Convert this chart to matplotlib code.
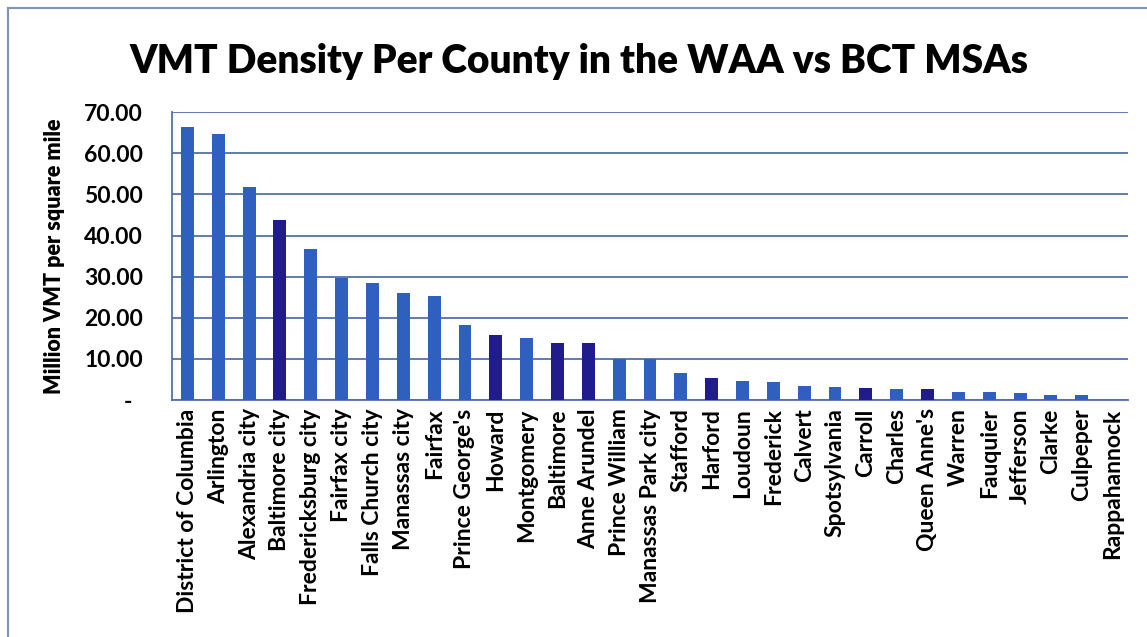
import matplotlib
matplotlib.use("Agg")
import matplotlib.pyplot as plt
from matplotlib.lines import Line2D

plt.rcParams['font.family'] = ['Lato', 'DejaVu Sans']

# counties, sorted by VMT density
counties = ["District of Columbia", "Arlington", "Alexandria city", "Baltimore city",
            "Fredericksburg city", "Fairfax city", "Falls Church city", "Manassas city",
            "Fairfax", "Prince George's", "Howard", "Montgomery", "Baltimore",
            "Anne Arundel", "Prince William", "Manassas Park city", "Stafford",
            "Harford", "Loudoun", "Frederick", "Calvert", "Spotsylvania", "Carroll",
            "Charles", "Queen Anne's", "Warren", "Fauquier", "Jefferson", "Clarke",
            "Culpeper", "Rappahannock"]
vmt_density = [66.3, 64.6, 51.7, 43.8, 36.8, 29.6, 28.4, 26.1, 25.4, 18.2, 15.8,
               15.2, 13.8, 13.8, 10.0, 10.0, 6.5, 5.4, 4.7, 4.3, 3.5, 3.2, 2.9,
               2.6, 2.6, 2.0, 2.0, 1.7, 1.3, 1.3, 0.1]
# counties in the Baltimore (BCT) MSA get the dark colour
bct = ["Baltimore city", "Howard", "Baltimore", "Anne Arundel", "Harford",
       "Carroll", "Queen Anne's"]
yticks = [0, 10, 20, 30, 40, 50, 60, 70]
ytick_labels = ["-  ", "10.00", "20.00", "30.00", "40.00", "50.00", "60.00", "70.00"]

waa_color = "#2f60c0"
bct_color = "#201c8c"
grid_color = "#5271aa"

fig = plt.figure(figsize=(11.47, 6.37), dpi=100)
ax = fig.add_axes([0.15, 0.372, 0.8334, 0.452])

colors = [bct_color if c in bct else waa_color for c in counties]
x = range(len(counties))
ax.bar(x, vmt_density, width=0.42, color=colors, zorder=3)

ax.set_xlim(-0.5, len(counties) - 0.5)
ax.set_ylim(0, 70)
ax.set_yticks(yticks)
ax.set_yticklabels(ytick_labels, fontsize=16.5, fontweight='bold')
ax.set_xticks(list(x))
ax.set_xticklabels(counties, rotation=90, fontsize=16.5, fontweight='bold')
ax.tick_params(axis='y', length=0, pad=21)
ax.tick_params(axis='x', length=0, pad=6)

ax.yaxis.grid(True, color=grid_color, linewidth=1.3, zorder=0)
for s in ["top", "right"]:
    ax.spines[s].set_visible(False)
for s in ["left", "bottom"]:
    ax.spines[s].set_color(grid_color)
    ax.spines[s].set_linewidth(1.3)

ax.set_ylabel("Million VMT per square mile", fontsize=15.5, fontweight='heavy')
ax.yaxis.set_label_coords(-0.112, 0.5)

fig.text(0.505, 0.903, "VMT Density Per County in the WAA vs BCT MSAs",
         ha='center', va='center', fontsize=28, fontweight='heavy')

# frame around the chart
frame = "#7f92bb"
fig.add_artist(Line2D([0.007, 0.007], [0.0, 0.987], color=frame, linewidth=1.5))
fig.add_artist(Line2D([0.007, 1.0], [0.987, 0.987], color=frame, linewidth=1.5))

fig.savefig("out.png", dpi=100)
